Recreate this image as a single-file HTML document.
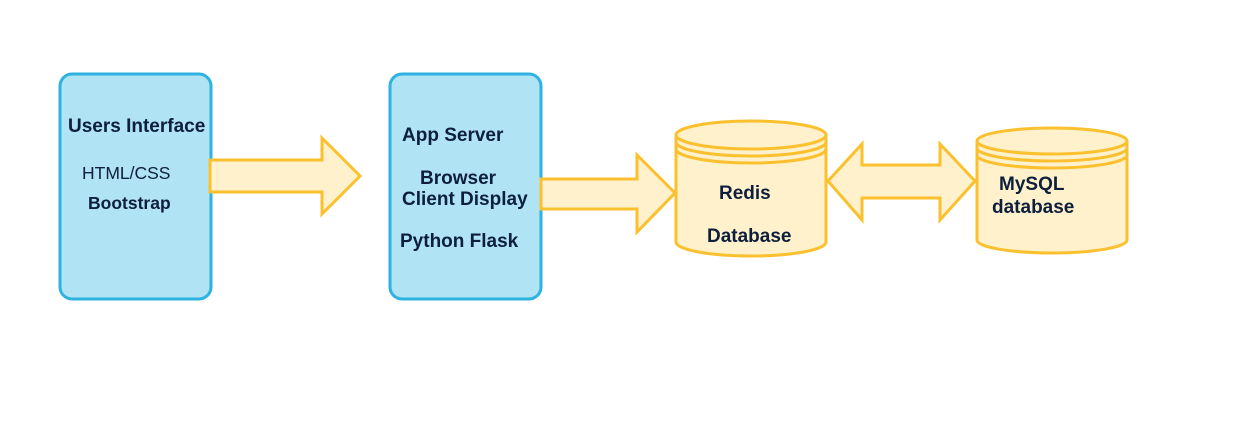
<!DOCTYPE html>
<html><head><style>
body{margin:0;background:#fff;}
svg text{font-family:"Liberation Sans",sans-serif;fill:#0d1f3c;font-weight:bold;font-size:19px;}
</style></head><body>
<svg width="1248" height="420" viewBox="0 0 1248 420" xmlns="http://www.w3.org/2000/svg">
<g fill="#b0e3f3" stroke="#2eb2e2" stroke-width="3">
<rect x="60" y="74" width="151" height="225" rx="12"/>
<rect x="390" y="74" width="151" height="225" rx="12"/>
</g>
<g fill="#fff1cc" stroke="#fbc02d" stroke-width="3" stroke-linejoin="miter">
<polygon points="210,160 322,160 322,138 360,176 322,214 322,192 210,192"/>
<polygon points="541,179 637,179 637,155 675,193 637,232 637,209 541,209"/>
<polygon points="828,181 862,144 862,165 940,165 940,144 975,181 940,220 940,198 862,198 862,220"/>
<path d="M676,135 L676,242 A75,14 0 0 0 826,242 L826,135 A75,14 0 0 0 676,135 Z"/>
<path d="M676,135 A75,14 0 0 0 826,135 M676,142 A75,14 0 0 0 826,142 M676,149 A75,14 0 0 0 826,149" fill="none"/>
<path d="M977,141 L977,240 A75,13 0 0 0 1127,240 L1127,141 A75,13 0 0 0 977,141 Z"/>
<path d="M977,141 A75,13 0 0 0 1127,141 M977,148 A75,13 0 0 0 1127,148 M977,155 A75,13 0 0 0 1127,155" fill="none"/>
</g>
<text x="68" y="132">Users Interface</text>
<text x="82" y="179" style="font-weight:normal;font-size:17.5px">HTML/CSS</text>
<text x="88" y="209" style="font-size:17.5px">Bootstrap</text>
<text x="402" y="141">App Server</text>
<text x="420" y="184">Browser</text>
<text x="402" y="205">Client Display</text>
<text x="400" y="247">Python Flask</text>
<text x="719" y="199">Redis</text>
<text x="707" y="242">Database</text>
<text x="999" y="190">MySQL</text>
<text x="992" y="213">database</text>
</svg>
</body></html>
